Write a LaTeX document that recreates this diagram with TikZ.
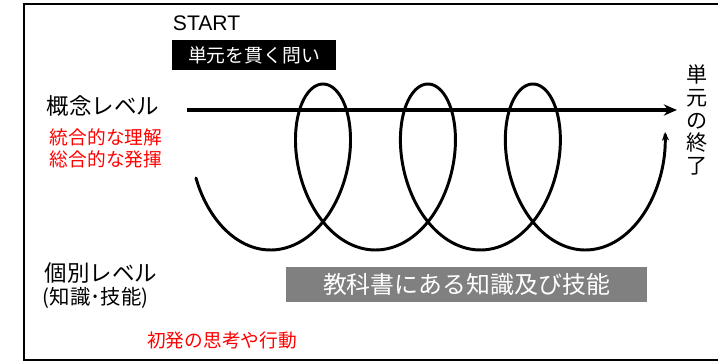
\documentclass[tikz,border=0pt]{standalone}
\usepackage{fontspec}
\setmainfont{Noto Sans CJK JP}
\newfontfamily\latinfont{Liberation Sans}
\usetikzlibrary{arrows.meta}

\begin{document}
\begin{tikzpicture}[x=0.025cm, y=-0.025cm,
    level/.style={anchor=west, font=\fontsize{16}{19}\selectfont},
    note/.style={text=red, font=\fontsize{13.3}{15.6}\selectfont},
    spiral/.style={line width=2.1pt, line cap=round}]
\useasboundingbox (0, 0) rectangle (718, 362);

%% 枠
\draw [line width=1.4pt] (730, 4) -- (24, 4) -- (24, 360) -- (730, 360);

%% 上の見出し
\node [anchor=west, font=\latinfont\fontsize{15}{18}\selectfont] (start) at (168, 23) {START};
\node [fill=black, text=white, minimum width=4.1cm, minimum height=0.75cm,
       font=\fontsize{13.4}{16}\selectfont] (toi) at (254, 55) {単元を貫く問い};

%% 左側のラベル
\node [level] (gainen) at (42, 106) {概念レベル};
\node [note, anchor=west, align=left] (tougou) at (45, 148) {統合的な理解\\総合的な発揮};
\node [level] (kobetsu) at (40, 273) {個別レベル};
\node [anchor=west, font=\fontsize{14.5}{17}\selectfont] (chishiki) at (38, 298) {(知識･技能)};
\node [note] (shohatsu) at (222, 340) {初発の思考や行動};

%% 下の灰色の帯
\node [fill=black!50, text=white, minimum width=9.025cm, minimum height=0.875cm,
       font=\fontsize{17}{20}\selectfont] (kyoka) at (466.5, 284.5) {教科書にある知識及び技能};

%% 右端の縦書き
\node [align=center, font=\fontsize{15}{16.3}\selectfont] (owari) at (697, 120) {単\\元\\の\\終\\了};

%% 概念レベルの矢印
\coordinate (a0) at (187, 110);
\coordinate (a1) at (677, 110);
\draw [line width=2.8pt, -{Stealth[length=0.33cm, width=0.28cm]}] (a0) -- (a1);

%% らせん
\draw [spiral, -{Stealth[length=0.22cm, width=0.18cm]}]
    plot [domain=-4.58:17.72, samples=400, smooth]
    ({323 + 16.7*\x - 51*sin(\x r)}, {167 - 83*cos(\x r)});

\end{tikzpicture}
\end{document}
